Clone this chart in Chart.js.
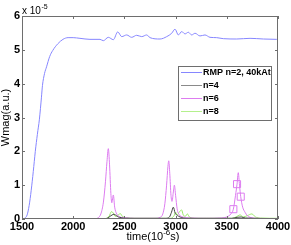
<!DOCTYPE html>
<html>
<head>
<meta charset="utf-8">
<script src="https://cdn.jsdelivr.net/npm/chart.js@4.4.1/dist/chart.umd.min.js"></script>
<style>
html, body { margin: 0; padding: 0; background: #fff; }
canvas { display: block; }
</style>
</head>
<body>
<canvas id="wmag" width="291" height="245"></canvas>
<script>
// values (y in units of 1e-5)
const seriesNames = ['RMP n=2, 40kAt', 'n=4', 'n=6', 'n=8'];
const seriesColors = ['#8686ff', '#444444', '#dd7cf0', '#9ae86a'];
const legendColors = ['#8686ff', '#8a8a8a', '#dd7cf0', '#b4f08c'];

const xTickValues = [1500, 2000, 2500, 3000, 3500, 4000];
const yTickValues = [0, 1, 2, 3, 4, 5, 6];

const rmpTime = [1500, 1530, 1550, 1570, 1590, 1610, 1630, 1650, 1670, 1690, 1700, 1720, 1740, 1770, 1800, 1850, 1900, 1950, 2000, 2066, 2164, 2262, 2294, 2343, 2392, 2435, 2474, 2522, 2571, 2620, 2669, 2718, 2750, 2848, 2913, 2962, 2994, 3027, 3060, 3092, 3124, 3157, 3190, 3238, 3287, 3336, 3401, 3466, 3597, 3727, 3857, 3987, 4000];
const rmpVal  = [0, 0.03, 0.12, 0.4, 0.85, 1.4, 2.0, 2.5, 2.95, 3.6, 3.95, 4.3, 4.5, 4.8, 4.98, 5.18, 5.31, 5.36, 5.36, 5.34, 5.31, 5.31, 5.27, 5.37, 5.30, 5.53, 5.39, 5.44, 5.37, 5.43, 5.39, 5.44, 5.36, 5.32, 5.39, 5.49, 5.61, 5.44, 5.54, 5.47, 5.52, 5.44, 5.49, 5.41, 5.44, 5.37, 5.36, 5.33, 5.32, 5.34, 5.32, 5.31, 5.31];

const n4Time = [1500, 2300, 2340, 2360, 2380, 2400, 2420, 2440, 2470, 2500, 2900, 2940, 2960, 2978, 2995, 3010, 3030, 3060, 3100, 3550, 3600, 3640, 3680, 4000];
const n4Val  = [0, 0, 0.03, 0.08, 0.12, 0.14, 0.1, 0.06, 0.04, 0.02, 0.02, 0.06, 0.2, 0.35, 0.18, 0.12, 0.08, 0.04, 0.02, 0.02, 0.05, 0.06, 0.03, 0.01];

const n6Time = [1500, 2200, 2240, 2270, 2295, 2315, 2330, 2343, 2355, 2368, 2377, 2392, 2405, 2425, 2450, 2500, 2600, 2800, 2850, 2875, 2895, 2912, 2925, 2933, 2943, 2955, 2965, 2978, 2988, 3000, 3015, 3037, 3070, 3150, 3300, 3450, 3500, 3540, 3564, 3585, 3600, 3612, 3624, 3636, 3655, 3678, 3700, 3727, 3800, 4000];
const n6Val  = [0, 0, 0.03, 0.15, 0.5, 1.1, 1.7, 2.08, 1.6, 0.75, 0.48, 0.71, 0.35, 0.15, 0.07, 0.04, 0.02, 0.02, 0.05, 0.15, 0.45, 1.0, 1.55, 1.72, 1.35, 0.7, 0.52, 0.8, 1.0, 0.7, 0.3, 0.12, 0.06, 0.03, 0.02, 0.03, 0.06, 0.15, 0.29, 0.7, 1.03, 1.37, 1.0, 0.66, 0.35, 0.2, 0.1, 0.05, 0.02, 0.01];
const n6SquareTimes = [3564, 3600, 3636];

const n8Time = [1500, 2300, 2350, 2375, 2390, 2410, 2440, 2460, 2480, 2520, 2600, 2950, 2985, 3000, 3015, 3040, 3058, 3075, 3095, 3115, 3135, 3200, 3550, 3590, 3630, 3660, 3700, 3745, 3780, 3830, 4000];
const n8Val  = [0.01, 0.01, 0.08, 0.22, 0.18, 0.08, 0.12, 0.16, 0.08, 0.04, 0.02, 0.02, 0.1, 0.2, 0.12, 0.22, 0.27, 0.12, 0.08, 0.15, 0.06, 0.02, 0.02, 0.06, 0.12, 0.06, 0.1, 0.15, 0.06, 0.03, 0.02];

const FONT = '"Liberation Sans", Arial, Helvetica, sans-serif';

function pts(t, v) {
    return t.map((x, i) => ({ x: x, y: v[i] }));
}

function lineSet(i, t, v) {
    return {
        label: seriesNames[i],
        data: pts(t, v),
        borderColor: seriesColors[i],
        borderWidth: 1,
        pointRadius: 0,
        fill: false,
        cubicInterpolationMode: 'monotone'
    };
}

const n6Set = lineSet(2, n6Time, n6Val);
n6Set.pointStyle = 'rect';
n6Set.pointRadius = ctx => n6SquareTimes.includes(n6Time[ctx.dataIndex]) ? 5 : 0;
n6Set.pointBorderColor = seriesColors[2];
n6Set.pointBackgroundColor = 'rgba(0,0,0,0)';
n6Set.pointBorderWidth = 1;

// box, inward ticks, tick labels, legend and axis titles the matlab way
const matlabAxes = {
    id: 'matlabAxes',
    afterDatasetsDraw(chart) {
        const c = chart.ctx, a = chart.chartArea;
        const sx = chart.scales.x, sy = chart.scales.y;
        c.save();
        c.strokeStyle = '#6e6e6e';
        c.lineWidth = 1;
        c.beginPath();
        c.rect(a.left + 0.5, a.top + 0.5, a.right - a.left - 1, a.bottom - a.top - 1);
        xTickValues.forEach(v => {
            const px = Math.round(sx.getPixelForValue(v)) + 0.5;
            c.moveTo(px, a.bottom); c.lineTo(px, a.bottom - 3);
            c.moveTo(px, a.top); c.lineTo(px, a.top + 3);
        });
        yTickValues.forEach(v => {
            const py = Math.round(sy.getPixelForValue(v)) + 0.5;
            c.moveTo(a.left, py); c.lineTo(a.left + 3, py);
            c.moveTo(a.right, py); c.lineTo(a.right - 3, py);
        });
        c.stroke();

        c.fillStyle = '#000';
        c.font = 'bold 11px ' + FONT;
        c.textAlign = 'center';
        c.textBaseline = 'top';
        xTickValues.forEach(v => c.fillText(String(v), sx.getPixelForValue(v), a.bottom + 2));
        c.textAlign = 'right';
        c.textBaseline = 'middle';
        yTickValues.forEach(v => c.fillText(String(v), a.left - 2, sy.getPixelForValue(v)));
        c.restore();
    },
    afterDraw(chart) {
        const c = chart.ctx, a = chart.chartArea;
        c.save();
        // legend
        const lx = 178, ly = 66, lw = 94, lh = 55;
        c.fillStyle = '#fff';
        c.fillRect(lx, ly, lw, lh);
        c.strokeStyle = '#6e6e6e';
        c.lineWidth = 1;
        c.strokeRect(lx + 0.5, ly + 0.5, lw - 1, lh - 1);
        c.font = 'bold 9px ' + FONT;
        c.textBaseline = 'middle';
        c.textAlign = 'left';
        seriesNames.forEach((name, i) => {
            const y = ly + 6.5 + i * 13;
            c.strokeStyle = legendColors[i];
            c.beginPath();
            c.moveTo(lx + 3, y); c.lineTo(lx + 24, y);
            c.stroke();
            c.fillStyle = '#000';
            c.fillText(name, lx + 25, y);
        });
        // exponent
        c.fillStyle = '#000';
        c.textBaseline = 'alphabetic';
        c.font = '10px ' + FONT;
        c.fillText('x 10', a.left, 14);
        const w = c.measureText('x 10').width;
        c.font = '7px ' + FONT;
        c.fillText('-5', a.left + w + 0.5, 9);
        // x title
        c.font = '11px ' + FONT;
        const p1 = 'time(10', p2 = '-6', p3 = 's)';
        const w1 = c.measureText(p1).width, w3 = c.measureText(p3).width;
        c.font = '8px ' + FONT;
        const w2 = c.measureText(p2).width;
        const x0 = (a.left + a.right) / 2 + 3 - (w1 + w2 + w3) / 2;
        c.font = '11px ' + FONT;
        c.fillText(p1, x0, 240);
        c.font = '8px ' + FONT;
        c.fillText(p2, x0 + w1, 235);
        c.font = '11px ' + FONT;
        c.fillText(p3, x0 + w1 + w2, 240);
        // y title
        c.translate(9, (a.top + a.bottom) / 2);
        c.rotate(-Math.PI / 2);
        c.textAlign = 'center';
        c.fillText('Wmag(a.u.)', 0, 0);
        c.restore();
    }
};

new Chart(document.getElementById('wmag'), {
    type: 'line',
    data: {
        datasets: [
            lineSet(0, rmpTime, rmpVal),
            lineSet(1, n4Time, n4Val),
            n6Set,
            lineSet(3, n8Time, n8Val)
        ]
    },
    options: {
        responsive: false,
        animation: false,
        devicePixelRatio: 1,
        layout: { padding: { top: 16, right: 13, left: 0, bottom: 0 } },
        plugins: { legend: { display: false }, tooltip: { enabled: false } },
        scales: {
            x: {
                type: 'linear',
                min: 1500,
                max: 4000,
                afterBuildTicks: s => { s.ticks = xTickValues.map(v => ({ value: v })); },
                afterFit: s => { s.height = 26; },
                grid: { display: false },
                border: { display: false },
                ticks: { display: false }
            },
            y: {
                min: 0,
                max: 6,
                afterBuildTicks: s => { s.ticks = yTickValues.map(v => ({ value: v })); },
                afterFit: s => { s.width = 22; },
                grid: { display: false },
                border: { display: false },
                ticks: { display: false }
            }
        }
    },
    plugins: [matlabAxes]
});
</script>
</body>
</html>
